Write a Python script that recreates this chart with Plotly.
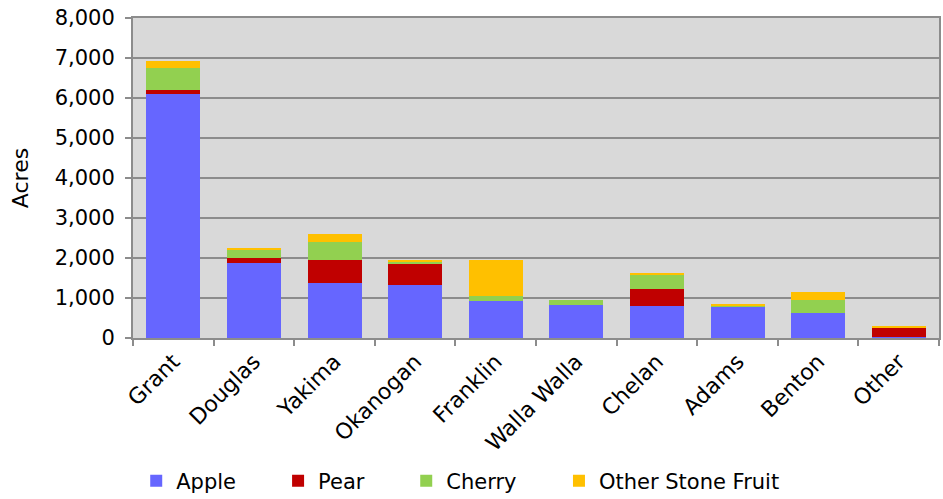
import plotly.graph_objects as go

# Orchard acreage by county, split by fruit type
counties = ["Grant", "Douglas", "Yakima", "Okanogan", "Franklin",
            "Walla Walla", "Chelan", "Adams", "Benton", "Other"]
apple = [6100, 1870, 1385, 1320, 920, 835, 800, 775, 620, 35]
pear = [110, 125, 560, 525, 0, 0, 435, 10, 0, 215]
cherry = [530, 215, 450, 60, 140, 110, 350, 20, 330, 10]
stone_fruit = [190, 50, 215, 50, 890, 0, 25, 25, 200, 30]

series = [
    ("Apple", apple, "#6666FF"),
    ("Pear", pear, "#C00000"),
    ("Cherry", cherry, "#92D050"),
    ("Other Stone Fruit", stone_fruit, "#FFC000"),
]

FONT = "DejaVu Sans"
GRID = "#8C8C8C"

# one legend per series so each entry can sit at its own spot along the bottom
legend_ids = ["legend", "legend2", "legend3", "legend4"]
legend_x = [0.004, 0.180, 0.339, 0.5285]

fig = go.Figure()
for (name, vals, color), lid in zip(series, legend_ids):
    fig.add_trace(go.Bar(
        x=counties, y=vals, name=name, legend=lid,
        marker=dict(color=color, line=dict(width=0)),
    ))

layout_legends = {}
for lid, lx in zip(legend_ids, legend_x):
    layout_legends[lid] = dict(
        orientation="h", x=lx, xanchor="left", y=-0.447, yanchor="middle",
        font=dict(family=FONT, size=21), itemwidth=30,
        bgcolor="rgba(0,0,0,0)",
    )

fig.update_layout(
    barmode="stack",
    bargap=0.33,
    width=943, height=499,
    margin=dict(l=133, r=4, t=18, b=161, autoexpand=False),
    paper_bgcolor="white",
    plot_bgcolor="#D9D9D9",
    font=dict(family=FONT, size=21, color="black"),
    showlegend=True,
    **layout_legends,
)

fig.update_xaxes(
    type="category",
    tickangle=-45,
    tickson="boundaries",
    ticks="outside", ticklen=6, tickcolor=GRID, tickwidth=1.5,
    showline=True, linecolor=GRID, linewidth=2, mirror=True,
    showgrid=False,
    tickfont=dict(family=FONT, size=22),
)
fig.update_yaxes(
    range=[0, 8000], dtick=1000,
    tickformat=",d",
    ticks="outside", ticklen=6, tickcolor=GRID, tickwidth=1.5,
    ticklabelstandoff=6,
    showline=True, linecolor=GRID, linewidth=2, mirror=True,
    showgrid=True, gridcolor=GRID, gridwidth=1.5,
    zeroline=False,
    tickfont=dict(family=FONT, size=21),
    title=dict(text="Acres", font=dict(family=FONT, size=22), standoff=20),
)

fig.write_html("out.html")
